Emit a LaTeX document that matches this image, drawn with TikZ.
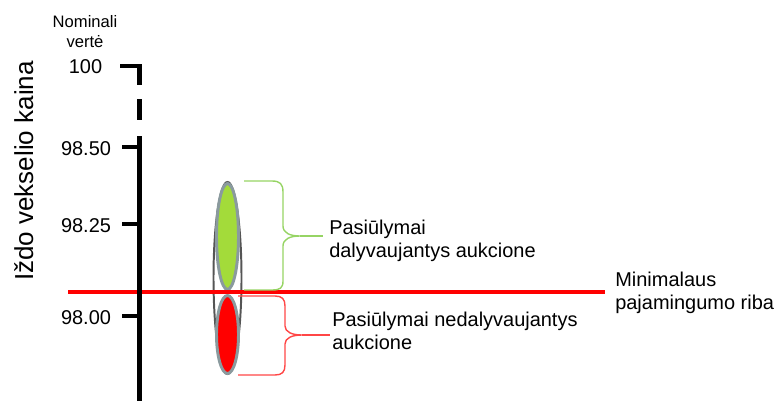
\documentclass[tikz,border=0pt]{standalone}
\usepackage{fontspec}
\setmainfont{Liberation Sans}
\definecolor{bidgreen}{RGB}{163,219,58}
\definecolor{bidred}{RGB}{255,0,0}
\definecolor{rimgray}{RGB}{138,154,158}
\definecolor{shellgray}{RGB}{85,85,85}
\definecolor{bracegreen}{RGB}{150,212,100}
\definecolor{bracered}{RGB}{255,70,70}
\tikzset{
  axisline/.style={line width=3pt},
  ticklbl/.style={font=\fontsize{14.2}{17}\selectfont, inner sep=0pt, anchor=base},
  bidtext/.style={font=\fontsize{14.2}{16.4}\selectfont, align=left, anchor=north west, inner sep=0pt},
  bidoval/.style={draw=rimgray, line width=2.1pt},
  bracket/.style={line width=1pt, line join=round},
}
\begin{document}
\begin{tikzpicture}[x=0.025cm, y=-0.025cm]
\useasboundingbox (0,0) rectangle (780,401);
% axis title and top label
\node[rotate=90, anchor=base, inner sep=0pt, font=\fontsize{18.5}{22}\selectfont] (title) at (33,171) {Iždo vekselio kaina};
\node[align=center, anchor=north, inner sep=0pt, font=\fontsize{11.8}{14.2}\selectfont] (nominal) at (85,15) {Nominali\\vertė};
% offers
\draw[draw=shellgray, line width=1.4pt] (227.5,278) ellipse (14 and 96);
\draw[bidoval, fill=bidgreen] (227.5,236.5) ellipse (11 and 53);
\draw[bidoval, fill=bidred] (227.5,334.5) ellipse (11 and 39);
% minimum yield line
\coordinate (limleft) at (68,292);
\coordinate (limright) at (605,292);
\draw[bidred, line width=3.2pt] (limleft) -- (limright);
% price axis
\draw[axisline] (120,66) -| (139.5,85);
\draw[axisline] (139.5,99) -- (139.5,120);
\draw[axisline] (139.5,136) -- (139.5,401);
\foreach \y/\p in {147/98.50, 224/98.25, 316/98.00}
{\draw[axisline] (122,\y) -- (139.5,\y);
	\node[ticklbl] at (86,\y+8) {\p};}
\node[ticklbl] (top) at (85.5,73) {100};
% braces
\coordinate (gtip) at (300,236);
\coordinate (gend) at (323,236);
\draw[bracket, bracegreen] (244,181) -- (272,181) .. controls (280,181) and (283,184) .. (283,192) -- (283,226) .. controls (283,233) and (290,236) .. (gtip) .. controls (290,236) and (283,239) .. (283,246) -- (283,281) .. controls (283,288) and (280,290) .. (272,290) -- (244,290);
\draw[bracket, bracegreen] (gtip) -- (gend);
\coordinate (rtip) at (302,335);
\coordinate (rend) at (330,335);
\draw[bracket, bracered] (238,296) -- (275,296) .. controls (282,296) and (285,299) .. (285,306) -- (285,326) .. controls (285,332) and (292,335) .. (rtip) .. controls (292,335) and (285,338) .. (285,344) -- (285,365) .. controls (285,372) and (282,375) .. (275,375) -- (238,375);
\draw[bracket, bracered] (rtip) -- (rend);
% texts
\node[bidtext] (intext) at (329,220) {Pasiūlymai\\dalyvaujantys aukcione};
\node[bidtext] (outtext) at (332,312) {Pasiūlymai nedalyvaujantys\\aukcione};
\node[bidtext] (limtext) at (615,272) {Minimalaus\\pajamingumo riba};
\end{tikzpicture}
\end{document}
